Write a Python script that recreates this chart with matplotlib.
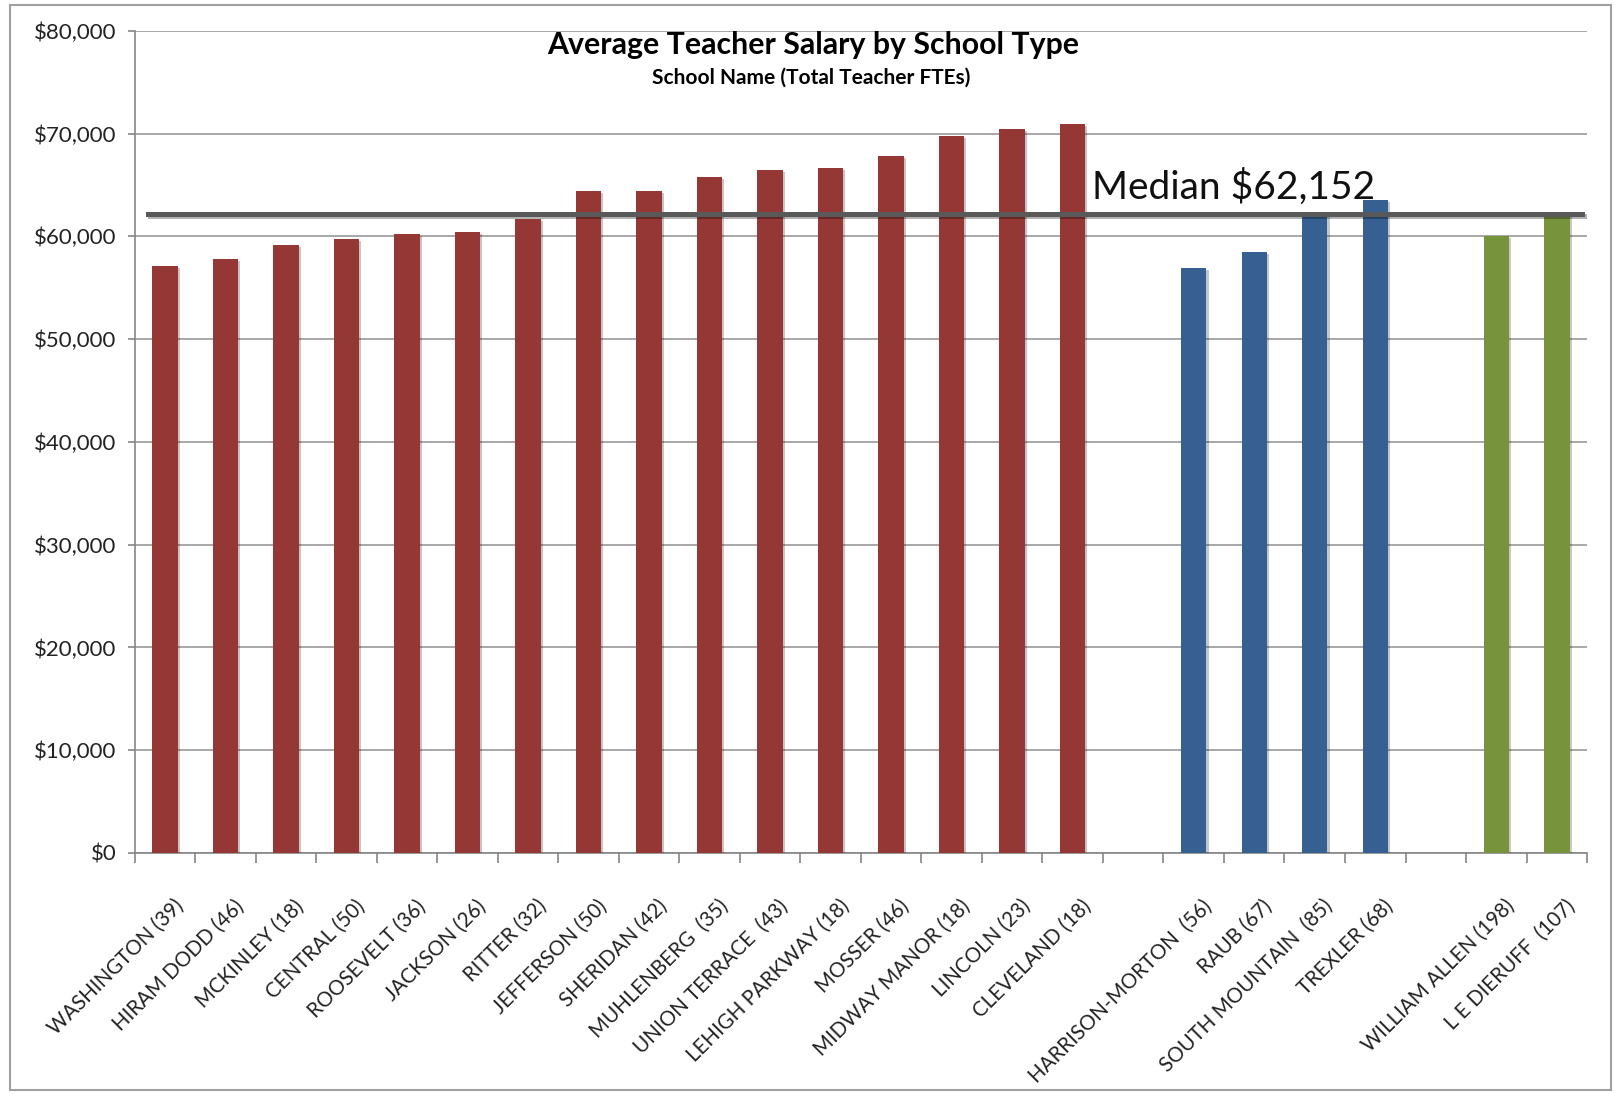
import numpy as np
import matplotlib
matplotlib.use("Agg")
from matplotlib import pyplot as plt
from matplotlib.patches import Rectangle
from matplotlib.transforms import ScaledTranslation
import matplotlib.patheffects as pe

plt.rcParams['font.family'] = ['Lato', 'DejaVu Sans']

# elementary schools (red), middle schools (blue), high schools (green)
elem_names = ['WASHINGTON (39)', 'HIRAM DODD (46)', 'MCKINLEY (18)', 'CENTRAL (50)',
              'ROOSEVELT (36)', 'JACKSON (26)', 'RITTER (32)', 'JEFFERSON (50)',
              'SHERIDAN (42)', 'MUHLENBERG  (35)', 'UNION TERRACE  (43)',
              'LEHIGH PARKWAY (18)', 'MOSSER (46)', 'MIDWAY MANOR (18)',
              'LINCOLN (23)', 'CLEVELAND (18)']
elem_salary = [57100, 57800, 59200, 59700, 60250, 60450, 61650, 64400,
               64400, 65800, 66450, 66650, 67800, 69750, 70400, 70900]

middle_names = ['HARRISON-MORTON  (56)', 'RAUB (67)', 'SOUTH MOUNTAIN  (85)', 'TREXLER (68)']
middle_salary = [56950, 58500, 62100, 63500]

high_names = ['WILLIAM ALLEN (198)', 'L E DIERUFF  (107)']
high_salary = [60050, 62200]

median_salary = 62152

groups = [(elem_names, elem_salary, '#953735'),
          (middle_names, middle_salary, '#366092'),
          (high_names, high_salary, '#77933C')]

fig = plt.figure(figsize=(16.15, 10.94), dpi=100)
ax = fig.add_axes([0.0834, 0.2203, 0.8993, 0.7516])

# lay groups out with one empty slot between them
pos = 0
tick_pos, tick_lab = [], []
for names, vals, col in groups:
    x = np.arange(pos, pos + len(vals))
    ax.bar(x, vals, width=0.42, color=col, zorder=3,
           path_effects=[pe.SimplePatchShadow(offset=(1.5, -1.5), alpha=0.25), pe.Normal()])
    tick_pos += list(x)
    tick_lab += names
    pos += len(vals) + 1
n_slots = pos - 1

ax.set_xlim(-0.5, n_slots - 0.5)
ax.set_ylim(0, 80000)

# median line and label
ax.axhline(median_salary, xmin=0.009, xmax=0.9967, color='#595959', lw=3.6, zorder=4,
           path_effects=[pe.SimpleLineShadow(offset=(1.5, -1.5), alpha=0.3), pe.Normal()])
ax.annotate('Median ${:,}'.format(median_salary), xy=(15.32, median_salary),
            xytext=(0, 11), textcoords='offset points', fontsize=28,
            va='baseline', ha='left', color='#111111', zorder=5)

# y axis
yt = np.arange(0, 80001, 10000)
ax.set_yticks(yt)
ax.set_yticklabels(['${:,}'.format(v) for v in yt], fontsize=16, color='#222222')
ax.tick_params(axis='y', length=5, width=1.2, color='#868686', pad=8)
ax.grid(axis='y', color='#a0a0a0', lw=1.3, zorder=0)

# x axis: labels at bar centres, tick marks at slot boundaries
ax.set_xticks(tick_pos)
ax.set_xticklabels(tick_lab, rotation=45, ha='right', rotation_mode='anchor',
                   fontsize=14.8, color='#222222')
ax.tick_params(axis='x', which='major', length=0, pad=31)
ax.set_xticks(np.arange(-0.5, n_slots, 1.0), minor=True)
ax.tick_params(axis='x', which='minor', length=7, width=1.2, color='#868686')
off = ScaledTranslation(8 / 100, 0, fig.dpi_scale_trans)
for lab in ax.get_xticklabels():
    lab.set_transform(lab.get_transform() + off)

for s in ['top', 'right']:
    ax.spines[s].set_visible(False)
for s in ['left', 'bottom']:
    ax.spines[s].set_color('#868686')
    ax.spines[s].set_linewidth(1.2)

# titles
fig.text(0.5034, 0.9506, 'Average Teacher Salary by School Type', ha='center',
         va='baseline', fontsize=21.8, fontweight='bold')
fig.text(0.502, 0.9232, 'School Name (Total Teacher FTEs)', ha='center',
         va='baseline', fontsize=15, fontweight='bold')

# outer chart border
fig.patches.append(Rectangle((0.0062, 0.0037), 0.9913, 0.9918, transform=fig.transFigure,
                             fill=False, edgecolor='#a0a0a0', lw=1.5))

fig.savefig('out.png', dpi=100)
